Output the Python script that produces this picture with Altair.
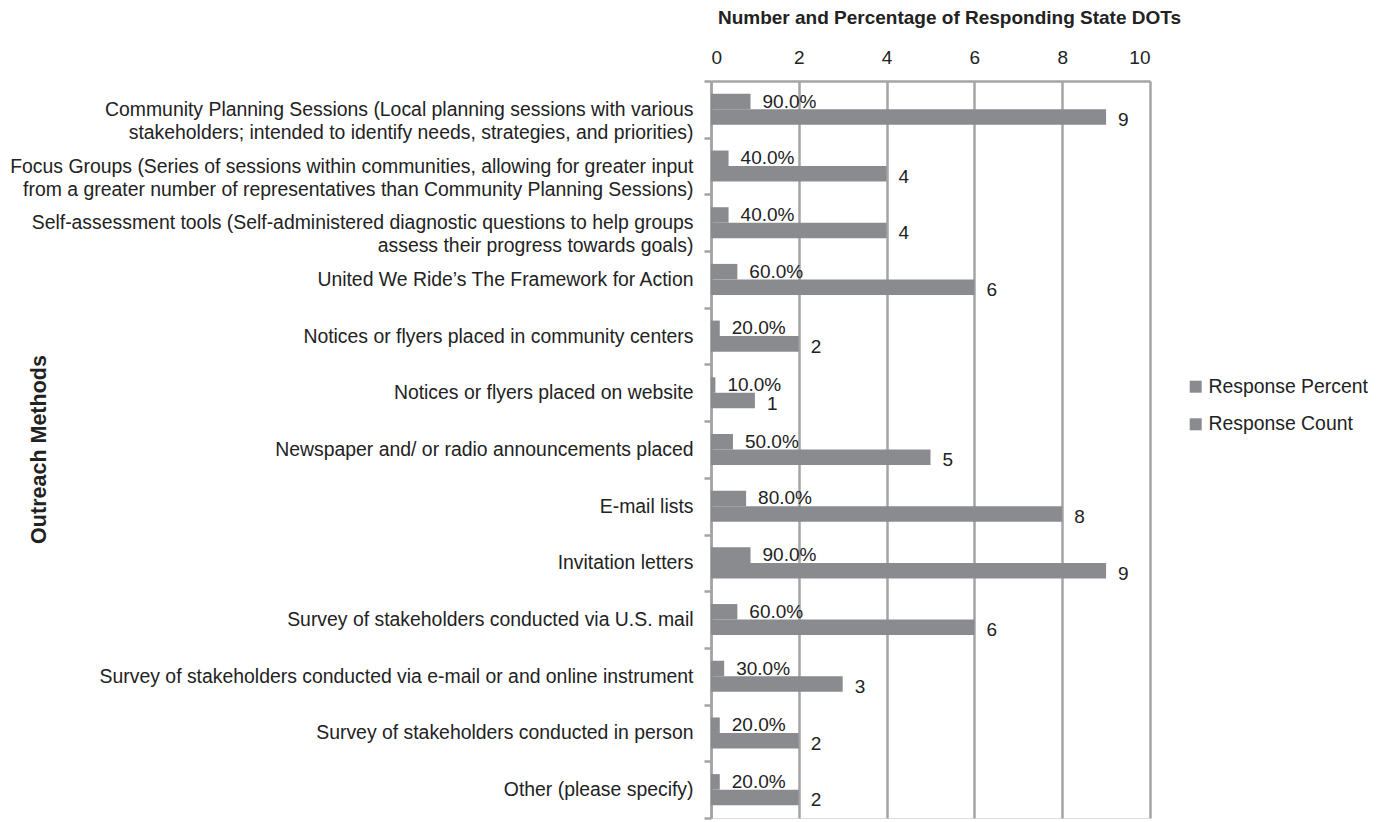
import altair as alt
import pandas as pd

categories = [
    "Community Planning Sessions (Local planning sessions with various\nstakeholders; intended to identify needs, strategies, and priorities)",
    "Focus Groups (Series of sessions within communities, allowing for greater input\nfrom a greater number of representatives than Community Planning Sessions)",
    "Self-assessment tools (Self-administered diagnostic questions to help groups\nassess their progress towards goals)",
    "United We Ride\u2019s  The Framework for Action",
    "Notices or flyers placed in community centers",
    "Notices or flyers placed on website",
    "Newspaper and/ or radio announcements placed",
    "E-mail lists",
    "Invitation letters",
    "Survey of stakeholders conducted via U.S. mail",
    "Survey of stakeholders conducted via e-mail or and online instrument",
    "Survey of stakeholders conducted in person",
    "Other (please specify)",
]
response_count = [9, 4, 4, 6, 2, 1, 5, 8, 9, 6, 3, 2, 2]
response_percent = [90.0, 40.0, 40.0, 60.0, 20.0, 10.0, 50.0, 80.0, 90.0, 60.0, 30.0, 20.0, 20.0]
series = ["Response Percent", "Response Count"]
x_ticks = [0, 2, 4, 6, 8, 10]

rows = []
for c, n, p in zip(categories, response_count, response_percent):
    rows.append({"cat": c, "series": series[0], "value": p / 100.0, "label": f"{p:.1f}%"})
    rows.append({"cat": c, "series": series[1], "value": n, "label": f"{n}"})
df = pd.DataFrame(rows)

FONT = "Liberation Sans"
BAR = "#8a8b8f"
GRID = "#a4a4a4"
TXT = "#222222"

y_enc = alt.Y("cat:N", sort=categories,
              scale=alt.Scale(paddingInner=0, paddingOuter=0),
              axis=alt.Axis(title="Outreach Methods", titleFont=FONT, titleFontSize=21.5,
                            titleFontWeight="bold", titleColor=TXT,
                            titleX=-672, titleY=368, titleAngle=-90,
                            titleAlign="center", titleBaseline="middle",
                            labelFont=FONT, labelFontSize=19.4, labelColor=TXT,
                            labelExpr="split(datum.label, '\\n')", labelLimit=900,
                            labelPadding=11, labelLineHeight=23,
                            tickBand="extent", tickColor=GRID, tickSize=7, tickWidth=2.5,
                            domainColor=GRID, domainWidth=2.5))
yoff = alt.YOffset("series:N", sort=series,
                   scale=alt.Scale(paddingInner=0, paddingOuter=0.826))

bars = alt.Chart(df).mark_bar().encode(
    x=alt.X("value:Q", scale=alt.Scale(domain=[0, 10]),
            axis=alt.Axis(orient="top", values=x_ticks,
                          title="Number and Percentage of Responding State DOTs",
                          titleFont=FONT, titleFontSize=19, titleFontWeight="bold", titleColor=TXT,
                          titleX=238, titleY=-64, titleAlign="center", titleBaseline="middle",
                          labelFont=FONT, labelFontSize=19, labelColor=TXT,
                          labelPadding=14, ticks=False, grid=True, gridColor=GRID, gridWidth=2.5,
                          domainColor=GRID, domainWidth=2.5)),
    y=y_enc,
    yOffset=yoff,
    color=alt.Color("series:N", sort=series,
                    scale=alt.Scale(domain=series, range=[BAR, BAR]),
                    legend=alt.Legend(title=None, orient="none", legendX=475, legendY=296,
                                      padding=0, labelFont=FONT, labelFontSize=19.4,
                                      labelColor=TXT, labelOffset=3,
                                      symbolType="square", symbolSize=144, rowPadding=16.6,
                                      symbolStrokeWidth=0)),
)

pct_text = alt.Chart(df[df.series == series[0]]).mark_text(
    align="left", baseline="middle", dx=12, dy=0, font=FONT, fontSize=19, color=TXT
).encode(x="value:Q", y=alt.Y("cat:N", sort=categories), yOffset=yoff, text="label:N")

cnt_text = alt.Chart(df[df.series == series[1]]).mark_text(
    align="left", baseline="middle", dx=12, dy=3, font=FONT, fontSize=19, color=TXT
).encode(x="value:Q", y=alt.Y("cat:N", sort=categories), yOffset=yoff, text="label:N")

chart = alt.layer(bars, pct_text, cnt_text).properties(
    width=439, height=737,
    padding={"left": 1, "top": 0, "right": 0, "bottom": 0},
).configure_view(stroke=None).configure(background="white")

chart.save("out.html", embed_options={"renderer": "svg", "actions": False})
